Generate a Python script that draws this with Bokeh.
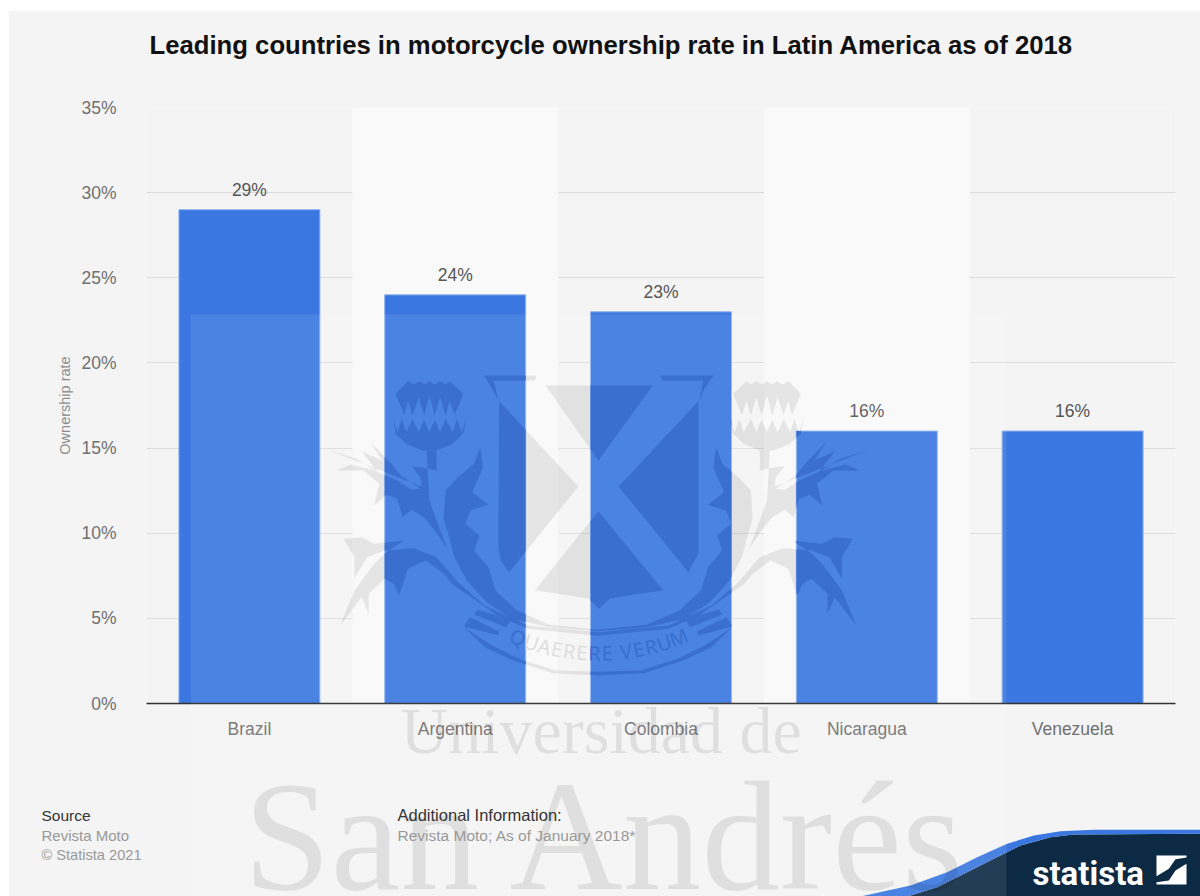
from bokeh.embed import file_html
from bokeh.resources import INLINE
from bokeh.plotting import figure
from bokeh.layouts import column
from bokeh.models import ColumnDataSource, Range1d, FixedTicker
from bokeh.core.properties import value
import math

countries = ["Brazil", "Argentina", "Colombia", "Nicaragua", "Venezuela"]
ownership = [29, 24, 23, 16, 16]
y_ticks = [0, 5, 10, 15, 20, 25, 30, 35]
title_text = "Leading countries in motorcycle ownership rate in Latin America as of 2018"

FONT = "Liberation Sans"
PAGE_LEFT, PAGE_TOP = 8, 10
PAGE_W, PAGE_H = 1200 - PAGE_LEFT, 896 - PAGE_TOP
LEFT, RIGHT, TOP, BOTTOM = 146, 1175, 107, 703
BAR_WIDTH = 0.685
BG, BAND = "#f4f4f4", "#f9f9f9"
BAR, CREST_ON_BAR = "#3a77e0", "#3a6fcf"

slots = [i + 0.5 for i in range(len(countries))]
step = (RIGHT - LEFT) / len(countries)

p = figure(width=PAGE_W, height=PAGE_H, output_backend="svg", toolbar_location=None,
           x_range=Range1d(0, len(countries)), y_range=Range1d(0, 35),
           min_border_left=LEFT - PAGE_LEFT, min_border_right=1200 - RIGHT,
           min_border_top=TOP - PAGE_TOP, min_border_bottom=896 - BOTTOM,
           background_fill_color=BG, border_fill_color=BG, outline_line_color=None,
           frame_align=False, margin=(PAGE_TOP, 0, 0, PAGE_LEFT))
p.extra_y_ranges["px"] = Range1d(BOTTOM, TOP)


def slot_x(page_x):
    """Page pixel column to position on the category axis."""
    return (page_x - LEFT) / step


# Axes and grid
p.xgrid.visible = False
p.ygrid.ticker = FixedTicker(ticks=y_ticks[1:])
p.ygrid.grid_line_color = "#c6c6c6"
p.ygrid.grid_line_dash = "1 1"
p.ygrid.grid_line_width = 1
ax = p.yaxis[0]
ax.ticker = FixedTicker(ticks=y_ticks)
ax.major_label_overrides = {t: f"{t}%" for t in y_ticks}
ax.axis_line_color = None
ax.major_tick_line_color = None
ax.minor_tick_line_color = None
ax.major_label_text_font = FONT
ax.major_label_text_font_size = "17.5px"
ax.major_label_text_color = "#707070"
ax.major_label_standoff = 24
ax.axis_label = "Ownership rate"
ax.axis_label_text_font = FONT
ax.axis_label_text_font_style = "normal"
ax.axis_label_text_font_size = "14.5px"
ax.axis_label_text_color = "#8c8c8c"
ax.axis_label_standoff = 5
xa = p.xaxis[0]
xa.ticker = FixedTicker(ticks=slots)
xa.major_label_overrides = dict(zip(slots, countries))
xa.axis_line_color = "#333333"
xa.axis_line_width = 1.5
xa.major_tick_line_color = None
xa.minor_tick_line_color = None
xa.major_label_text_font = FONT
xa.major_label_text_font_size = "17.5px"
xa.major_label_text_color = "#707070"
xa.major_label_standoff = 9

# Alternating column bands
p.vbar(x=[slots[1], slots[3]], top=35, width=1.0, color=BAND, line_color=None)


def zoomed(points):
    """Crest outline units to page pixels."""
    return [(320 + x / 2.8, 360 + y / 3) for x, y in points]


def mirrored(points):
    return [(1555 - x, y) for x, y in points]


# Crest outlines, drawn for the left half and reflected for the right
shield = [
    [(500, 122), (722, 378), (528, 635), (505, 600), (498, 560)],
    [(630, 75), (930, 75), (778, 300)],
    [(778, 452), (960, 690), (860, 705), (810, 715), (780, 745), (750, 715), (700, 705), (600, 690)],
    [(835, 378), (1058, 122), (1058, 580), (1030, 635)],
    [(458, 45), (605, 45), (600, 60), (485, 60), (498, 120), (480, 85)],
    [(950, 45), (1100, 45), (1075, 85), (1060, 120), (1072, 60), (960, 60)],
]
left_half = [
    # thistle head
    [(210, 100), (245, 62), (262, 72), (277, 62), (292, 72), (305, 62), (320, 72), (335, 62), (350, 72),
     (362, 62), (400, 100), (375, 165), (362, 120), (350, 165), (335, 110), (320, 165), (305, 105),
     (290, 165), (275, 110), (258, 165), (245, 120), (235, 165)],
    # thistle cup
    [(203, 175), (215, 215), (228, 175), (240, 215), (258, 175), (275, 215), (290, 178), (305, 215),
     (320, 178), (335, 215), (350, 175), (370, 215), (382, 175), (395, 215), (408, 175), (400, 220),
     (370, 250), (325, 270), (285, 270), (240, 250), (210, 220)],
    # upper leaf and stem
    [(20, 268), (100, 295), (160, 335), (115, 272), (172, 300), (140, 245), (190, 300), (225, 345),
     (280, 385), (255, 388), (215, 360), (150, 330), (85, 312), (45, 330), (120, 330), (165, 370),
     (150, 435), (185, 403), (215, 415), (230, 470), (255, 448), (290, 470), (320, 510), (355, 565),
     (325, 480), (305, 420), (297, 270), (325, 270), (325, 330), (283, 320), (255, 318), (280, 350),
     (283, 378)],
    # foliage between stem and shield
    [(345, 475), (350, 390), (385, 350), (430, 310), (447, 260), (455, 320), (425, 395), (470, 433),
     (420, 450), (405, 490), (445, 525), (430, 570), (470, 620), (490, 690), (550, 750), (640, 792),
     (778, 808), (778, 812), (640, 800), (535, 775), (465, 725), (410, 660), (375, 590), (360, 530)],
    # lower leaf and ribbon arc
    [(235, 540), (150, 550), (115, 530), (65, 535), (95, 590), (95, 655), (130, 590), (180, 570),
     (260, 563), (325, 590), (385, 665), (460, 735), (580, 795), (778, 815), (778, 826), (580, 805),
     (500, 768), (370, 672), (345, 640), (295, 600), (245, 625), (220, 705), (205, 670), (180, 655),
     (135, 700), (135, 760), (115, 710), (55, 795), (95, 690), (150, 610), (190, 570)],
    # ribbon stripes
    [(438, 748), (535, 775), (520, 800), (430, 762)],
    [(418, 770), (500, 812), (498, 825), (402, 798)],
    [(402, 800), (480, 855), (560, 897), (660, 930), (778, 934), (778, 945), (650, 938), (540, 900),
     (460, 860)],
]
crest_shapes = [zoomed(s) for s in shield]
for s in left_half:
    crest_shapes.append(zoomed(s))
    crest_shapes.append(zoomed(mirrored(s)))


def clip_to_rect(poly, x0, x1, y0, y1):
    """Sutherland-Hodgman clip of a polygon against a rectangle."""
    edges = [(lambda q: q[0] >= x0, 0, x0), (lambda q: q[0] <= x1, 0, x1),
             (lambda q: q[1] >= y0, 1, y0), (lambda q: q[1] <= y1, 1, y1)]
    out = poly
    for inside, axis, lim in edges:
        src, out = out, []
        for i, cur in enumerate(src):
            prev = src[i - 1]
            if inside(cur) != inside(prev):
                t = (lim - prev[axis]) / (cur[axis] - prev[axis])
                out.append((prev[0] + t * (cur[0] - prev[0]), prev[1] + t * (cur[1] - prev[1])))
            if inside(cur):
                out.append(cur)
        if not out:
            break
    return out


def draw_shapes(shapes, **kw):
    p.patches(xs=[[slot_x(q[0]) for q in s] for s in shapes], ys=[[q[1] for q in s] for s in shapes],
              y_range_name="px", line_color=None, **kw)


# Grey crest sits behind the bars
draw_shapes(crest_shapes, fill_color="black", fill_alpha=0.085)

# Bars and value labels
src = ColumnDataSource(dict(slot=slots, rate=ownership, label=[f"{v}%" for v in ownership]))
p.vbar(x="slot", top="rate", width=BAR_WIDTH, source=src, fill_color=BAR,
       line_color="#8fb2ee", line_width=1)
p.text(x="slot", y="rate", text="label", source=src, text_align="center", text_baseline="bottom",
       y_offset=-10, text_font=value(FONT), text_font_size="17.5px", text_color="#555555")

bar_rects = []
for i, v in enumerate(ownership):
    cx = LEFT + slots[i] * step
    bar_rects.append((cx - BAR_WIDTH * step / 2, cx + BAR_WIDTH * step / 2,
                      BOTTOM - v * (BOTTOM - TOP) / 35, BOTTOM))

# Pale veil across the lower part of the page
veil_right = 1006
draw_shapes([[(190, 314), (veil_right, 314), (veil_right, 703), (190, 703)]],
            fill_color="white", fill_alpha=0.09)

# The same crest tinted where it crosses a bar
clipped = []
for s in crest_shapes:
    for r in bar_rects:
        c = clip_to_rect(s, *r)
        if len(c) > 2:
            clipped.append(c)
draw_shapes(clipped, fill_color=CREST_ON_BAR)

# Motto set along an arc, one letter at a time, spaced by rough glyph widths
motto = "QUAERERE VERUM"
arc_cx, arc_cy, arc_r = 597.9, 440.7, 212
widths = [{" ": 0.45, "M": 1.25, "Q": 1.15, "E": 0.85}.get(ch, 1.0) for ch in motto]
total = sum(widths)
lx, ly, la, lc = [], [], [], []
run = 0.0
for ch, w in zip(motto, widths):
    a = math.radians(24.5 - 49 * (run + w / 2) / total)
    run += w
    x = arc_cx - arc_r * math.sin(a)
    y = arc_cy + arc_r * math.cos(a)
    lx.append(slot_x(x))
    ly.append(y)
    la.append(-a)
    lc.append(CREST_ON_BAR if any(r[0] <= x <= r[1] for r in bar_rects) else "#dedede")
p.text(x=lx, y=ly, text=list(motto), angle=la, text_align="center", text_baseline="middle",
       y_range_name="px", text_font=value("Noto Sans"), text_font_size="20px", text_color=lc)

# Transparent layer over the whole page, addressed in page pixels
layer = figure(width=PAGE_W, height=PAGE_H, output_backend="svg", toolbar_location=None,
               x_range=Range1d(PAGE_LEFT, 1200), y_range=Range1d(896, PAGE_TOP),
               min_border=0, outline_line_color=None, background_fill_alpha=0, border_fill_alpha=0,
               frame_align=False, margin=(-PAGE_H, 0, 0, PAGE_LEFT))
layer.axis.visible = False
layer.grid.visible = False


def wave(points):
    return [(860 + x / 3, 810 + y / 3) for x, y in points]


def fill_poly(points, **kw):
    layer.patch(x=[q[0] for q in points], y=[q[1] for q in points], line_color=None, **kw)


def page_text(x, baseline, text, size, color, font=FONT, style="normal", alpha=1.0):
    # The renderer seats "alphabetic" text about a third of an em low
    layer.text(x=[x], y=[baseline - 0.32 * size], text=[text], text_font=value(font),
               text_font_size=f"{size}px", text_font_style=style,
               text_color=color, text_alpha=alpha, text_baseline="alphabetic")


wave_top = [(0, 258), (150, 225), (260, 185), (350, 140), (440, 100), (520, 75), (600, 62), (700, 58), (1022, 58)]
wave_low = [(1022, 70), (640, 72), (570, 80), (480, 105), (400, 145), (300, 195), (230, 230), (140, 258)]
fill_poly(wave(wave_low + [(1022, 258)]), fill_color="#0d2a45")
fill_poly(wave(wave_top + wave_low), fill_color=BAR)
fill_poly([(190, BOTTOM), (veil_right, BOTTOM), (veil_right, 896), (190, 896)],
          fill_color="white", fill_alpha=0.09)

fill_poly(wave([(888, 135), (978, 135), (978, 141), (945, 146), (925, 175), (888, 197)]), fill_color="white")
fill_poly(wave([(978, 160), (978, 222), (888, 222), (888, 215), (925, 210), (945, 180)]), fill_color="white")
page_text(1032, 884, "statista", 33, "white", font="Roboto", style="bold")

# Institution name set large across the foot of the page
page_text(400, 751, "Universidad de", 66, "black", font="Liberation Serif", alpha=0.085)
page_text(243, 886, "San Andrés", 157, "black", font="Liberation Serif", alpha=0.085)

# Title, source and additional notes
page_text(149, 53, title_text, 25.7, "#111111", style="bold")
page_text(41, 820, "Source", 15.5, "#333333")
page_text(41, 840, "Revista Moto", 15, "#999999")
page_text(41, 859, "© Statista 2021", 14.6, "#999999")
page_text(397, 820, "Additional Information:", 16.5, "#333333")
page_text(397, 840, "Revista Moto; As of January 2018*", 15.5, "#999999")

page = column(p, layer, spacing=0)
open("out.html", "w").write(file_html(page, INLINE))
